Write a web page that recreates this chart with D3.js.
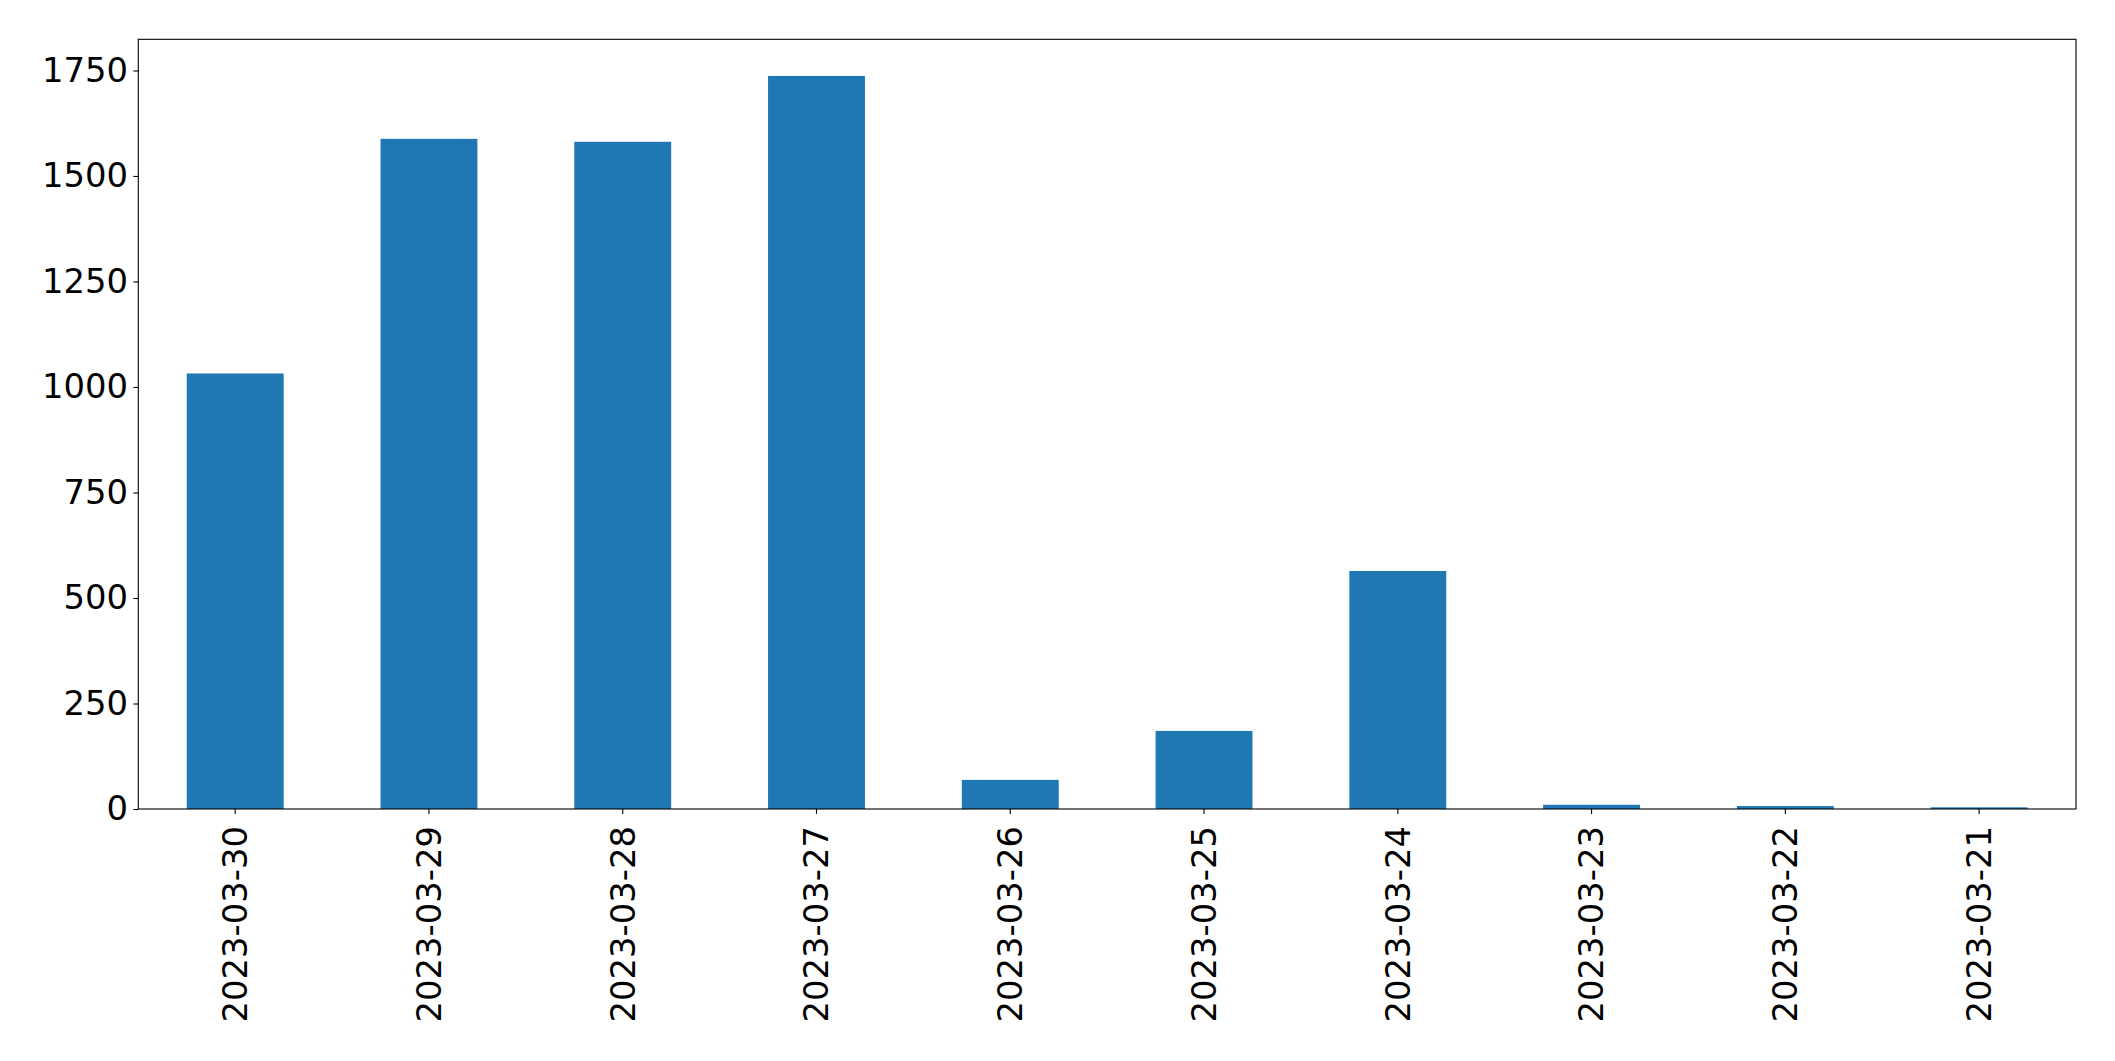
<!DOCTYPE html>
<html>
<head>
<meta charset="utf-8">
<script src="https://cdn.jsdelivr.net/npm/d3@7"></script>
<style>
html,body{margin:0;padding:0;background:#fff;}
svg text{font-family:"DejaVu Sans",sans-serif;fill:#000;}
</style>
</head>
<body>
<svg id="chart" width="2115" height="1061"></svg>
<script>
const categories = ["2023-03-30","2023-03-29","2023-03-28","2023-03-27","2023-03-26","2023-03-25","2023-03-24","2023-03-23","2023-03-22","2023-03-21"];
const values = [1032, 1588, 1581, 1737, 69, 185, 564, 10, 7, 4];
const yTicks = [0, 250, 500, 750, 1000, 1250, 1500, 1750];

const margin = {left:138.3, right:2115-2076, top:39.3, bottom:1061-809};
const W = 2115, H = 1061;
const svg = d3.select("#chart");
const x0 = margin.left, x1 = W - margin.right, y0 = H - margin.bottom, y1 = margin.top;

const yMax = d3.max(values) * 1.05;
const y = d3.scaleLinear().domain([0, yMax]).range([y0, y1]);
const x = d3.scaleBand().domain(categories).range([x0, x1]).paddingInner(0.5).paddingOuter(0.25);

svg.append("g").selectAll("rect").data(values).join("rect")
  .attr("x", (d,i) => x(categories[i]))
  .attr("width", x.bandwidth())
  .attr("y", d => y(d))
  .attr("height", d => y(0) - y(d))
  .attr("fill", "#1f77b4");

const fs = 33.8;
const yAxis = d3.axisLeft(y).tickValues(yTicks).tickSize(4.9).tickPadding(5.5).tickFormat(d3.format("d"));
const gy = svg.append("g").attr("transform", `translate(${x0},0)`).call(yAxis);
gy.select(".domain").remove();
gy.selectAll("line").attr("stroke","#000").attr("stroke-width",1.1);
gy.selectAll("text").attr("font-size", fs).attr("font-family","DejaVu Sans, sans-serif").attr("fill","#000");

const xAxis = d3.axisBottom(x).tickSize(4.9).tickPadding(0);
const gx = svg.append("g").attr("transform", `translate(0,${y0})`).call(xAxis);
gx.select(".domain").remove();
gx.selectAll("line").attr("stroke","#000").attr("stroke-width",1.1);
gx.selectAll("text")
  .attr("font-size", fs).attr("font-family","DejaVu Sans, sans-serif").attr("fill","#000")
  .attr("text-anchor","end")
  .attr("dy","0.35em")
  .attr("transform","translate(0,17) rotate(-90)")
  .attr("x",0).attr("y",0);

svg.append("rect").attr("x", x0).attr("y", y1).attr("width", x1-x0).attr("height", y0-y1)
  .attr("fill","none").attr("stroke","#000").attr("stroke-width",1.1);
</script>
</body>
</html>
